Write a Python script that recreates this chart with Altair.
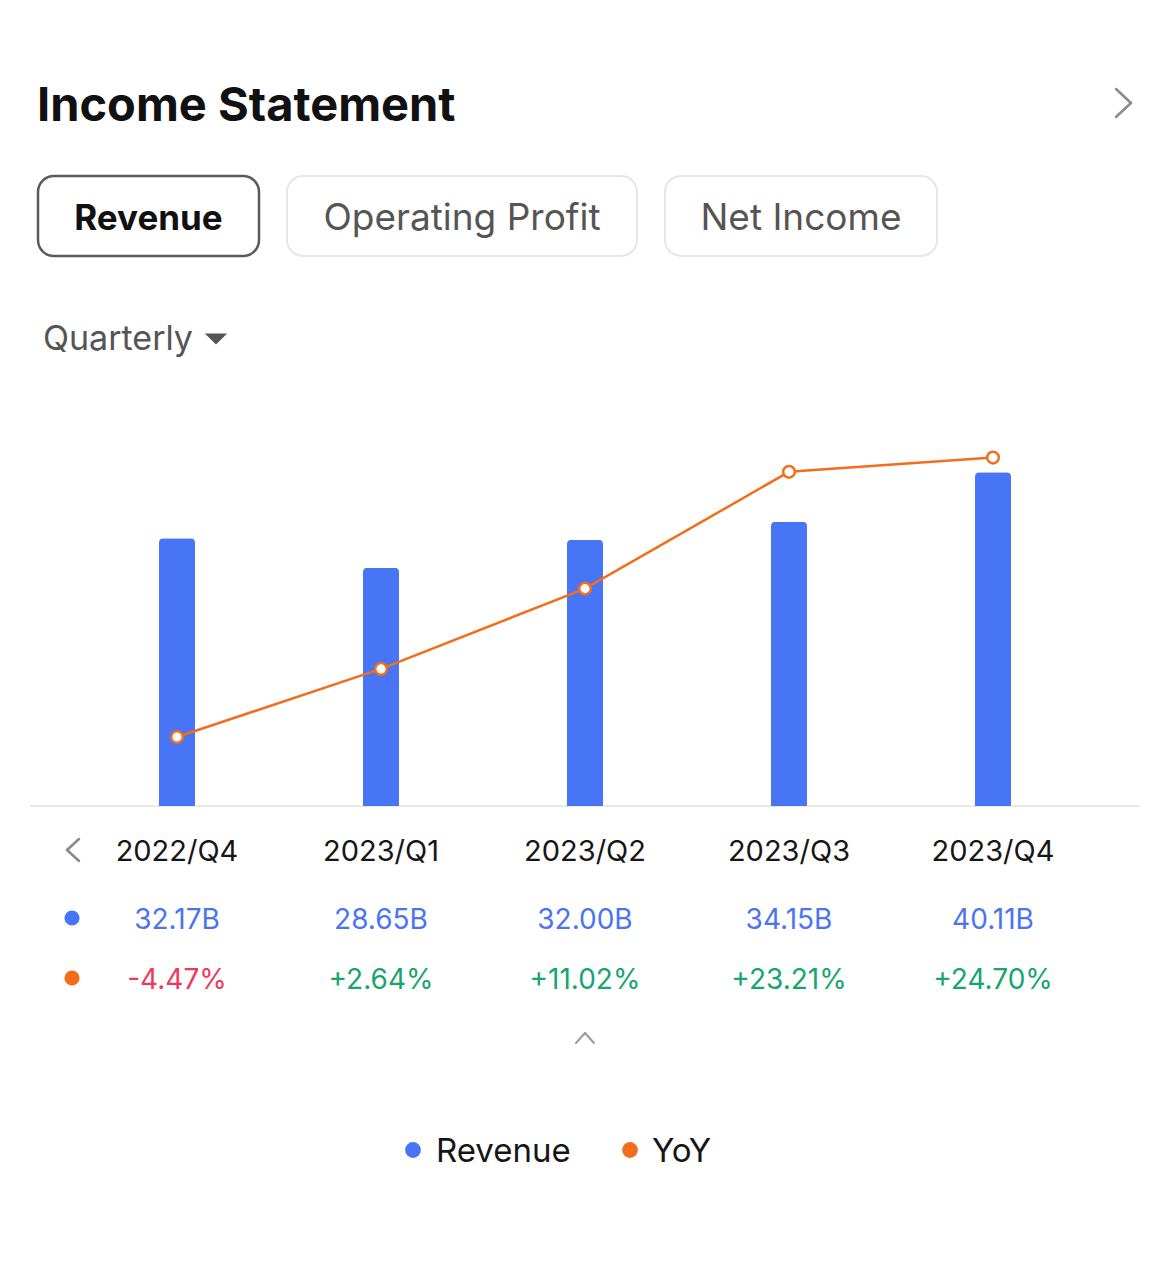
import altair as alt
import pandas as pd

# ---- data ----
quarters = ["2022/Q4", "2023/Q1", "2023/Q2", "2023/Q3", "2023/Q4"]
revenue_b = [32.17, 28.65, 32.00, 34.15, 40.11]
yoy_pct = [-4.47, 2.64, 11.02, 23.21, 24.70]
tabs = ["Revenue", "Operating Profit", "Net Income"]
legend_items = ["Revenue", "YoY"]

df = pd.DataFrame({"quarter": quarters, "revenue": revenue_b, "yoy": yoy_pct})
df["rev_label"] = [f"{v:.2f}B" for v in revenue_b]
df["yoy_label"] = [f"{v:+.2f}%" for v in yoy_pct]

FONT = "Inter"
BLUE = "#4775F5"
ORANGE = "#F46D1B"
RED = "#EE3A5A"
GREEN = "#17A56E"
M = 8  # page margin


def P(v):
    return v - M


one = pd.DataFrame({"k": [0]})

xenc = alt.X("quarter:N", sort=quarters,
             scale=alt.Scale(range=[P(75), P(1095)], paddingInner=0, paddingOuter=0),
             axis=None)

bars = alt.Chart(df).mark_bar(size=36, color=BLUE, cornerRadiusTopLeft=4,
                              cornerRadiusTopRight=4).encode(
    x=xenc,
    y=alt.Y("revenue:Q", scale=alt.Scale(domain=[0, 40], range=[P(806), P(806 - 8.32 * 40)],
                                         nice=False, zero=True), axis=None),
)

yscale = alt.Scale(domain=[-5, 25], range=[P(742.1), P(454.7)], nice=False, zero=False)
line = alt.Chart(df).mark_line(color=ORANGE, strokeWidth=2.5).encode(
    x=xenc, y=alt.Y("yoy:Q", scale=yscale, axis=None))
pts = alt.Chart(df).mark_point(filled=True, fill="white", stroke=ORANGE, strokeWidth=2.5,
                               size=135, opacity=1).encode(
    x=xenc, y=alt.Y("yoy:Q", scale=yscale, axis=None))

baseline = alt.Chart(one).mark_rule(color="#E8E8E8", strokeWidth=2).encode(
    x=alt.value(P(30)), x2=alt.value(P(1140)), y=alt.value(P(806)))

q_labels = alt.Chart(df).mark_text(font=FONT, fontSize=29, color="#161616",
                                   baseline="alphabetic").encode(
    x=xenc, y=alt.value(P(861)), text="quarter:N")
rev_labels = alt.Chart(df).mark_text(font=FONT, fontSize=28, color="#4A74F0",
                                     baseline="alphabetic").encode(
    x=xenc, y=alt.value(P(929)), text="rev_label:N")
yoy_labels = alt.Chart(df).mark_text(font=FONT, fontSize=28, baseline="alphabetic").encode(
    x=xenc, y=alt.value(P(989)), text="yoy_label:N",
    color=alt.condition(alt.datum.yoy < 0, alt.value(RED), alt.value(GREEN)))


def txt(s, x, y, size, color, weight="normal", align="left"):
    return alt.Chart(one).mark_text(text=s, font=FONT, fontSize=size, color=color,
                                    fontWeight=weight, align=align,
                                    baseline="alphabetic").encode(
        x=alt.value(P(x)), y=alt.value(P(y)))


def dot(x, y, color, size=250):
    return alt.Chart(one).mark_circle(color=color, size=size, opacity=1).encode(
        x=alt.value(P(x)), y=alt.value(P(y)))


def seg(x1, y1, x2, y2, color="#8A8A8A", w=2.5):
    return alt.Chart(one).mark_rule(color=color, strokeWidth=w, strokeCap="round").encode(
        x=alt.value(P(x1)), y=alt.value(P(y1)), x2=alt.value(P(x2)), y2=alt.value(P(y2)))


def button(x1, x2, stroke, sw):
    return alt.Chart(one).mark_rect(cornerRadius=16, fill="white", stroke=stroke,
                                    strokeWidth=sw).encode(
        x=alt.value(P(x1)), x2=alt.value(P(x2)), y=alt.value(P(176)), y2=alt.value(P(256)))


layers = [
    txt("Income Statement", 37, 121, 47, "#111111", "bold"),
    seg(1116, 89, 1131, 103), seg(1131, 103, 1116, 117),
    button(38, 259, "#5A5A5A", 2.5),
    button(287, 637, "#E6E6E6", 2),
    button(665, 937, "#E6E6E6", 2),
    txt(tabs[0], 148.5, 230, 35, "#111111", "bold", "center"),
    txt(tabs[1], 462, 230, 37, "#555555", "normal", "center"),
    txt(tabs[2], 801, 230, 37, "#555555", "normal", "center"),
    txt("Quarterly", 43, 350, 34, "#555555"),
    alt.Chart(one).mark_point(shape="M-1,-0.5L1,-0.5L0,0.5Z", filled=True, color="#555555",
                              size=500, opacity=1).encode(
        x=alt.value(P(216)), y=alt.value(P(339))),
    baseline,
    bars, line, pts,
    seg(79, 839, 67, 850), seg(67, 850, 79, 861),
    q_labels,
    dot(72, 918, BLUE, 230), rev_labels,
    dot(72, 978, ORANGE, 230), yoy_labels,
    seg(576, 1043, 585, 1033, "#9A9A9A", 2), seg(585, 1033, 594, 1043, "#9A9A9A", 2),
    dot(413, 1150, BLUE, 250), txt(legend_items[0], 436, 1162, 33, "#161616"),
    dot(630, 1150, ORANGE, 250), txt(legend_items[1], 652, 1162, 33, "#161616"),
]

chart = alt.layer(*layers).resolve_scale(y="independent").properties(
    width=1154, height=1255, padding=0, background="white"
).configure_view(strokeWidth=0)

chart.save("out.html", embed_options={"renderer": "svg", "actions": False})
